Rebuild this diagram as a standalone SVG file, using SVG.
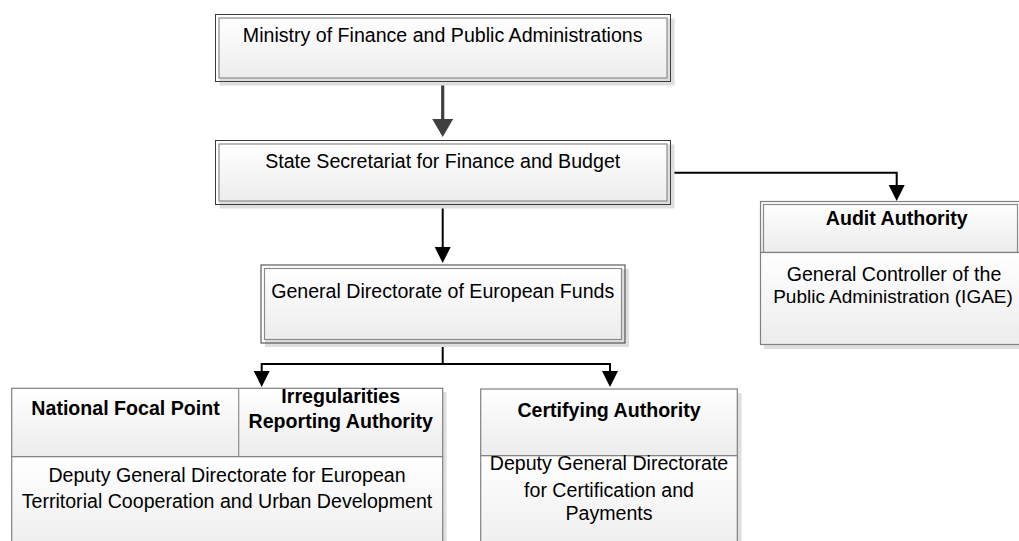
<svg xmlns="http://www.w3.org/2000/svg" width="1019" height="541" viewBox="0 0 1019 541">
<style>
text{font-family:"Liberation Sans",Arial,sans-serif;font-size:19.6px;fill:#000;text-anchor:middle}
.b{font-weight:bold}
.sh{fill:#dedede;stroke:none}
.outer{fill:none;stroke:#3a3a3a;stroke-width:1}
.inner{fill:url(#g);stroke:#8c8c8c;stroke-width:1.2}
.box{fill:url(#g);stroke:#808080;stroke-width:1.2}
.ln{fill:none;stroke:#8c8c8c;stroke-width:1.2}
.c{fill:none;stroke:#000;stroke-width:2}
.cg{fill:none;stroke:#404040;stroke-width:3.2}
</style>
<defs>
<linearGradient id="g" x1="0" y1="0" x2="0" y2="1">
<stop offset="0" stop-color="#ffffff"/>
<stop offset="1" stop-color="#ececec"/>
</linearGradient>
<marker id="ab" markerUnits="userSpaceOnUse" markerWidth="18" markerHeight="18" refX="1" refY="8" orient="auto">
<path d="M0,0 L16,8 L0,16 z" fill="#000"/>
</marker>
<marker id="ag" markerUnits="userSpaceOnUse" markerWidth="20" markerHeight="24" refX="1" refY="10.5" orient="auto">
<path d="M0,0 L18,10.5 L0,21 z" fill="#404040"/>
</marker>
</defs>

<g id="connectors">
<path class="cg" d="M442.7,82 V120" marker-end="url(#ag)"/>
<path class="c" d="M442.7,204 V248" marker-end="url(#ab)"/>
<path class="c" d="M670,172.7 H896.7 V186" marker-end="url(#ab)"/>
<path class="c" d="M442.7,343 V364 H261.7 V372" marker-end="url(#ab)"/>
<path class="c" d="M442.7,364 H610 V372" marker-end="url(#ab)"/>
</g>

<g id="ministry">
<rect class="sh" x="219.5" y="18.5" width="455" height="67"/>
<rect x="215.5" y="14.5" width="455" height="67" fill="#fff" class="outer"/>
<rect class="inner" x="219" y="18" width="448" height="60"/>
<text x="442.7" y="42">Ministry of Finance and Public Administrations</text>
</g>

<g id="state">
<rect class="sh" x="219.5" y="144.5" width="455" height="64"/>
<rect x="215.5" y="140.5" width="455" height="64" fill="#fff" class="outer"/>
<rect class="inner" x="219" y="144" width="448" height="57"/>
<text x="442.7" y="168">State Secretariat for Finance and Budget</text>
</g>

<g id="general-directorate">
<rect class="sh" x="265" y="269" width="364" height="78"/>
<rect x="261" y="265" width="364" height="78" fill="#fff" class="outer"/>
<rect class="inner" x="264.5" y="268.5" width="357" height="71"/>
<text x="442.7" y="298">General Directorate of European Funds</text>
</g>

<g id="audit">
<rect class="sh" x="764" y="205" width="260" height="144"/>
<rect class="box" x="760.5" y="201.5" width="260" height="51"/>
<rect class="ln" x="763.5" y="204.5" width="254" height="48"/>
<rect class="box" x="760.5" y="252.5" width="260" height="92"/>
<text class="b" x="896.7" y="225">Audit Authority</text>
<text x="894" y="281">General Controller of the</text>
<text x="893" y="303" style="font-size:19px">Public Administration (IGAE)</text>
</g>

<g id="national-focal-point">
<rect class="sh" x="15.5" y="392" width="431" height="160"/>
<rect class="box" x="11.7" y="388.3" width="431" height="68.4"/>
<line class="ln" x1="238.7" y1="388.3" x2="238.7" y2="456.7"/>
<rect class="box" x="11.7" y="456.7" width="431" height="100"/>
<text class="b" x="125.5" y="415">National Focal Point</text>
<text class="b" x="340.7" y="403">Irregularities</text>
<text class="b" x="340.7" y="428">Reporting Authority</text>
<text x="227" y="482">Deputy General Directorate for European</text>
<text x="227" y="507.5">Territorial Cooperation and Urban Development</text>
</g>

<g id="certifying">
<rect class="sh" x="484.5" y="393" width="257" height="160"/>
<rect class="box" x="480.7" y="389" width="256.6" height="66.7"/>
<rect class="box" x="480.7" y="455.7" width="256.6" height="100"/>
<text class="b" x="609" y="417">Certifying Authority</text>
<text x="609" y="470">Deputy General Directorate</text>
<text x="609" y="496.5">for Certification and</text>
<text x="609" y="520">Payments</text>
</g>
</svg>
